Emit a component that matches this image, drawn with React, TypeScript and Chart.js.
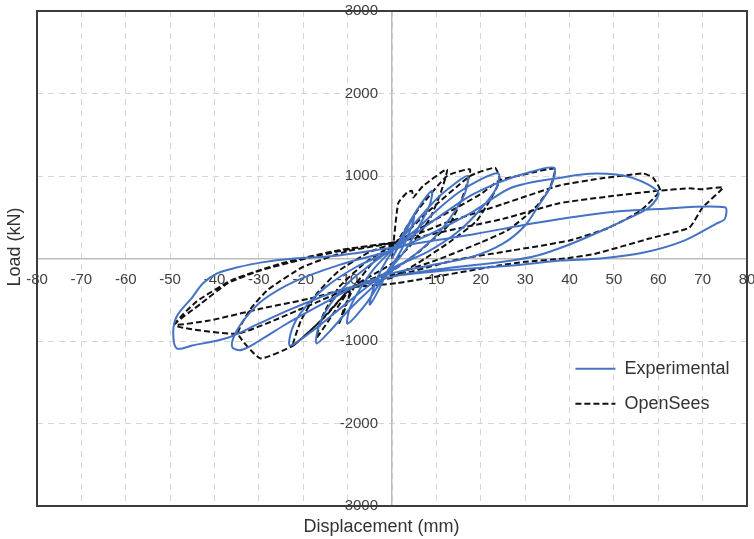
import React, { useEffect, useRef } from 'react';
import { Chart, registerables } from 'chart.js';

Chart.register(...registerables);

const seriesLabels = ['Experimental', 'OpenSees'];
const xTitleText = 'Displacement (mm)';
const yTitleText = 'Load (kN)';

// Experimental hysteresis (displacement mm, load kN)
const expDisp = [
  0, 2, 4, 5, 4.5, 3, 1, -1, -3, -5, -4.5, -3, -1, 1,
  3, 6, 9, 8.5, 6, 3, 0, -3, -6, -10, -9.5, -7, -4, -1, 1,
  5, 10, 14, 17, 16.5, 14, 10, 5, 0, -5, -10, -14, -17, -16.5, -14, -10, -5, 0,
  5, 10, 15, 20, 24, 23.5, 20, 15, 8, 0, -6, -12, -18, -23, -22.5, -20, -15, -8, 0,
  6, 12, 18, 24, 30, 36.5, 36, 33, 30, 25, 18, 8, 0, -8, -16, -24, -30, -34, -36, -35.5, -33, -29, -22, -12, 0,
  8, 18, 27, 38, 46, 54, 60, 58, 53, 47, 40, 33, 25, 12, 0, -13, -23, -30, -37, -45, -48.5, -49.3, -48.5, -45, -42.6, -39.4, -35, -29.7, -22, -13, 0,
  5, 11, 19, 33, 49, 60, 75, 75, 73, 66, 57, 47, 38, 27, 12, 2,
];
const expLoad = [
  0, 200, 420, 520, 400, 200, 0, -150, -380, -560, -420, -200, 0, 150,
  350, 620, 820, 650, 380, 100, -100, -320, -560, -790, -600, -350, -120, 50, 170,
  420, 720, 900, 1000, 800, 560, 280, 40, -150, -380, -640, -880, -1030, -820, -560, -300, -80, 120,
  330, 580, 800, 960, 1030, 850, 600, 330, 80, -120, -360, -620, -880, -1055, -850, -620, -350, -100, 100,
  330, 560, 770, 920, 1030, 1100, 900, 640, 400, 180, 20, -90, -180, -330, -560, -800, -1000, -1110, -1075, -930, -720, -500, -280, -80, 100,
  280, 560, 860, 980, 1030, 980, 800, 620, 480, 330, 170, 40, -40, -120, -220, -410, -620, -790, -960, -1055, -1090, -900, -700, -470, -300, -180, -110, -50, 0, 30, 130,
  180, 230, 300, 436, 560, 600, 620, 480, 420, 220, 75, 0, -25, -85, -145, -200,
];

// OpenSees model (displacement mm, load kN)
const osDisp = [
  0, 1.4, 3.4, 4.5, 4.8, 7, 12.4, 11, 8.5, 4, 0, -5, -9, -10.5, -12, -10.5, -8, -4, 1,
  6, 12.4, 17.6, 16, 13, 6, 0, -9, -13, -17, -15.5, -12, -6, 1,
  8, 17.6, 23.2, 24.3, 22, 19, 13, 6, 0, -9, -15, -22.3, -20.5, -17, -12, -5, 1,
  10, 20, 24.3, 30, 36.7, 35.6, 32.7, 29.5, 26, 20, 10, 0, -9, -16, -22.3, -29.7, -34.7, -32, -28, -20, -10, 1,
  12, 25, 37.7, 47, 56.6, 58.8, 60.4, 56, 49, 40, 27, 15, 5, -9, -20, -34.7, -49, -43, -37, -29.7, -18.5, -9, 1,
  12, 25, 37.7, 50, 60.4, 67, 70, 74.6, 70, 67, 58, 46, 39, 30, 24, 12, 1, -9, -18.5, -29.7, -41, -49, -44, -36, -25, -12, 1,
];
const osLoad = [
  0, 670, 800, 820, 740, 880, 1080, 800, 480, 150, -60, -220, -350, -600, -800, -560, -300, -30, 200,
  600, 1000, 1080, 760, 420, 80, -150, -350, -650, -960, -680, -350, -50, 200,
  560, 1000, 1100, 950, 700, 450, 200, -50, -230, -350, -700, -1055, -750, -430, -150, 80, 200,
  480, 780, 950, 1020, 1090, 860, 640, 485, 340, 194, -20, -200, -350, -750, -1055, -1210, -910, -620, -380, -100, 90, 200,
  430, 660, 885, 970, 1030, 980, 824, 580, 375, 218, 97, -10, -150, -350, -600, -910, -810, -545, -300, -145, 12, 120, 200,
  330, 480, 670, 760, 824, 850, 840, 860, 620, 375, 242, 60, 0, -40, -85, -200, -300, -350, -485, -610, -750, -800, -520, -260, -60, 100, 200,
];

const FONT = "'Liberation Sans', Arial, Helvetica, sans-serif";
const TEXT_COLOR = '#404040';
const GRID_COLOR = '#d6d6d6';
const ZERO_COLOR = '#bdbdbd';

const toPoints = (xs: number[], ys: number[]) => xs.map((x, i) => ({ x, y: ys[i] }));

const framePlugin = {
  id: 'frame',
  beforeDatasetsDraw(chart: any) {
    const { ctx, chartArea: a } = chart;
    ctx.save();
    ctx.strokeStyle = '#3c3c3c';
    ctx.lineWidth = 2;
    ctx.setLineDash([]);
    ctx.strokeRect(a.left, a.top, a.right - a.left, a.bottom - a.top);
    ctx.restore();
  },
};

const layoutTweaks = {
  id: 'layoutTweaks',
  afterLayout(chart: any) {
    const lg = chart.legend;
    if (lg) {
      const left = chart.scales.x.getPixelForValue(37.5);
      const top = chart.scales.y.getPixelForValue(-1020);
      lg.left = left;
      lg.top = top;
      lg.right = left + 200;
      lg.bottom = top + 110;
    }
    const xt = chart.scales.xTitle;
    if (xt) xt.left -= 21;
    const yt = chart.scales.yTitle;
    if (yt) yt.top -= 23;
  },
};

export default function App() {
  const ref = useRef<HTMLCanvasElement | null>(null);

  useEffect(() => {
    document.body.style.margin = '0';
    const canvas = ref.current;
    if (!canvas) return;
    const tickCb = (v: any) => (Number(v) === 0 ? '' : String(v));
    const chart = new Chart(canvas, {
      type: 'scatter',
      data: {
        datasets: [
          {
            label: seriesLabels[0],
            data: toPoints(expDisp, expLoad),
            showLine: true,
            borderColor: '#4472C4',
            backgroundColor: '#4472C4',
            borderWidth: 2,
            pointRadius: 0,
            tension: 0.3,
            xAxisID: 'x',
            yAxisID: 'y',
          },
          {
            label: seriesLabels[1],
            data: toPoints(osDisp, osLoad),
            showLine: true,
            borderColor: '#111111',
            backgroundColor: '#111111',
            borderWidth: 2,
            borderDash: [6, 3],
            pointRadius: 0,
            tension: 0.15,
            xAxisID: 'x',
            yAxisID: 'y',
          },
        ],
      },
      options: {
        animation: false,
        responsive: true,
        maintainAspectRatio: false,
        layout: { padding: { left: 0, top: 11, right: 7, bottom: 0 } },
        plugins: {
          tooltip: { enabled: false },
          legend: {
            position: 'chartArea',
            align: 'start',
            labels: {
              usePointStyle: true,
              pointStyle: 'line',
              pointStyleWidth: 40,
              boxHeight: 18,
              padding: 17,
              color: '#333333',
              font: { family: FONT, size: 18 },
              generateLabels(c: any) {
                const items = (Chart as any).defaults.plugins.legend.labels.generateLabels(c);
                return items.map((it: any, i: number) => {
                  const ds: any = c.data.datasets[it.datasetIndex ?? i];
                  return {
                    ...it,
                    lineDash: ds.borderDash || [],
                    lineWidth: ds.borderWidth,
                    strokeStyle: ds.borderColor,
                    fillStyle: ds.borderColor,
                    pointStyle: 'line',
                  };
                });
              },
            },
          },
        },
        scales: {
          x: {
            type: 'linear',
            axis: 'x',
            position: { y: 0 },
            min: -80,
            max: 80,
            afterFit(s: any) { s.paddingLeft = 0; s.paddingRight = 0; },
            ticks: {
              stepSize: 10,
              autoSkip: false,
              maxRotation: 0,
              padding: 12,
              color: TEXT_COLOR,
              font: { family: FONT, size: 15 },
              callback: tickCb,
            },
            grid: { color: GRID_COLOR, lineWidth: 1, drawTicks: false },
            border: { display: true, color: ZERO_COLOR, width: 1.5, dash: [6, 5] },
          },
          y: {
            type: 'linear',
            axis: 'y',
            position: { x: -3.15 },
            min: -3000,
            max: 3000,
            afterFit(s: any) { s.paddingTop = 0; s.paddingBottom = 0; },
            ticks: {
              stepSize: 1000,
              autoSkip: false,
              color: TEXT_COLOR,
              font: { family: FONT, size: 15 },
              callback: tickCb,
            },
            grid: { color: GRID_COLOR, lineWidth: 1, drawTicks: false },
            border: { display: false, dash: [6, 5] },
          },
          yZero: {
            type: 'linear',
            axis: 'y',
            position: { x: 0 },
            min: -3000,
            max: 3000,
            afterFit(s: any) { s.paddingTop = 0; s.paddingBottom = 0; },
            ticks: { display: false },
            grid: { display: false, drawTicks: false },
            border: { display: true, color: ZERO_COLOR, width: 1.5 },
          },
          xTitle: {
            type: 'linear',
            axis: 'x',
            position: 'bottom',
            min: -80,
            max: 80,
            ticks: { display: false },
            grid: { display: false, drawTicks: false },
            border: { display: false },
            title: {
              display: true,
              text: xTitleText,
              color: '#333333',
              font: { family: FONT, size: 18 },
              padding: { top: 10, bottom: 1.4 },
            },
          },
          yTitle: {
            type: 'linear',
            axis: 'y',
            position: 'left',
            min: -3000,
            max: 3000,
            ticks: { display: false },
            grid: { display: false, drawTicks: false },
            border: { display: false },
            title: {
              display: true,
              text: yTitleText,
              color: '#333333',
              font: { family: FONT, size: 18 },
              padding: { top: 4, bottom: 11.4 },
            },
          },
        },
      } as any,
      plugins: [framePlugin, layoutTweaks],
    });
    return () => chart.destroy();
  }, []);

  return (
    <div style={{ width: '754px', height: '539px', position: 'relative' }}>
      <canvas ref={ref} />
    </div>
  );
}
